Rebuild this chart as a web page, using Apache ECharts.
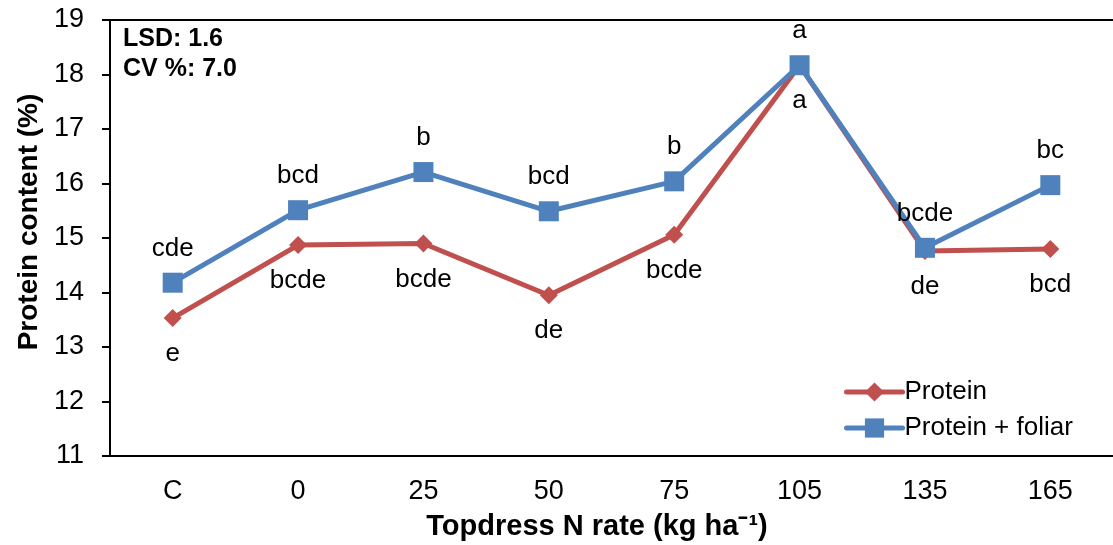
<!DOCTYPE html>
<html>
<head>
<meta charset="utf-8">
<script src="https://cdn.jsdelivr.net/npm/echarts@6/dist/echarts.min.js"></script>
<style>
  html, body { margin: 0; padding: 0; background: #fff; }
  #main { width: 1113px; height: 545px; }
</style>
</head>
<body>
<div id="main"></div>
<script>
var categories = ['C', '0', '25', '50', '75', '105', '135', '165'];
// 蛋白质含量 (%)
var protein = [13.53, 14.87, 14.9, 13.95, 15.06, 18.17, 14.76, 14.8];
var proteinFoliar = [14.18, 15.51, 16.21, 15.49, 16.04, 18.17, 14.82, 15.97];
// 显著性字母
var proteinLetters = ['e', 'bcde', 'bcde', 'de', 'bcde', 'a', 'de', 'bcd'];
var foliarLetters = ['cde', 'bcd', 'b', 'bcd', 'b', 'a', 'bcde', 'bc'];

var font = 'Liberation Sans, Arial, sans-serif';
var chart = echarts.init(document.getElementById('main'));

function withLetters(values, letters) {
  var out = [];
  for (var i = 0; i < values.length; i++) {
    out.push({ value: values[i], letter: letters[i] });
  }
  return out;
}

var option = {
  animation: false,
  textStyle: { fontFamily: font },
  grid: { left: 110, right: -9, top: 20, bottom: 89 },
  legend: {
    orient: 'vertical',
    left: 839,
    top: 374,
    itemWidth: 56,
    itemHeight: 24,
    itemGap: 10,
    lineStyle: { width: 5, cap: 'round' },
    textStyle: { fontSize: 26, color: '#000', fontFamily: font, padding: [0, 0, 0, -3] },
    data: ['Protein', 'Protein + foliar']
  },
  xAxis: {
    type: 'category',
    data: categories,
    boundaryGap: true,
    axisLine: { lineStyle: { color: '#000', width: 2 } },
    axisTick: { length: 7, lineStyle: { color: '#000', width: 2 } },
    axisLabel: { fontSize: 27, color: '#000', margin: 22, fontFamily: font },
    splitLine: { show: false }
  },
  yAxis: {
    type: 'value',
    min: 11,
    max: 19,
    interval: 1,
    axisLine: { show: true, lineStyle: { color: '#000', width: 2 } },
    axisTick: { show: true, length: 8, inside: false, lineStyle: { color: '#000', width: 2 } },
    axisLabel: { fontSize: 27, color: '#000', margin: 26, fontFamily: font },
    splitLine: { show: false }
  },
  graphic: [
    { type: 'line', shape: { x1: 110, y1: 20, x2: 1113, y2: 20 }, style: { stroke: '#000', lineWidth: 2 } },
    { type: 'text', left: 123, top: 27, style: { text: 'LSD: 1.6', fontSize: 25, fontWeight: 'bold', fill: '#000', fontFamily: font } },
    { type: 'text', left: 123, top: 57, style: { text: 'CV %: 7.0', fontSize: 25, fontWeight: 'bold', fill: '#000', fontFamily: font } },
    { type: 'text', x: 597, y: 527, style: { text: 'Topdress N rate (kg ha\u207B\u00B9)', fontSize: 29, fontWeight: 'bold', fill: '#000', align: 'center', verticalAlign: 'middle', fontFamily: font } },
    { type: 'text', x: 29, y: 222, rotation: Math.PI / 2, style: { text: 'Protein content (%)', fontSize: 28, fontWeight: 'bold', fill: '#000', align: 'center', verticalAlign: 'middle', fontFamily: font } }
  ],
  series: [
    {
      name: 'Protein',
      type: 'line',
      data: withLetters(protein, proteinLetters),
      symbol: 'diamond',
      symbolSize: 18,
      color: '#C0504D',
      lineStyle: { width: 5, color: '#C0504D' },
      itemStyle: { color: '#C0504D' },
      label: {
        show: true,
        position: 'bottom',
        distance: 14,
        fontSize: 26,
        color: '#000',
        fontFamily: font,
        formatter: function (p) { return p.data.letter; }
      },
      z: 2
    },
    {
      name: 'Protein + foliar',
      type: 'line',
      data: withLetters(proteinFoliar, foliarLetters),
      symbol: 'rect',
      symbolSize: 20,
      color: '#4F81BD',
      lineStyle: { width: 5, color: '#4F81BD' },
      itemStyle: { color: '#4F81BD' },
      label: {
        show: true,
        position: 'top',
        distance: 11,
        fontSize: 26,
        color: '#000',
        fontFamily: font,
        formatter: function (p) { return p.data.letter; }
      },
      z: 3
    }
  ]
};

chart.setOption(option);
</script>
</body>
</html>
